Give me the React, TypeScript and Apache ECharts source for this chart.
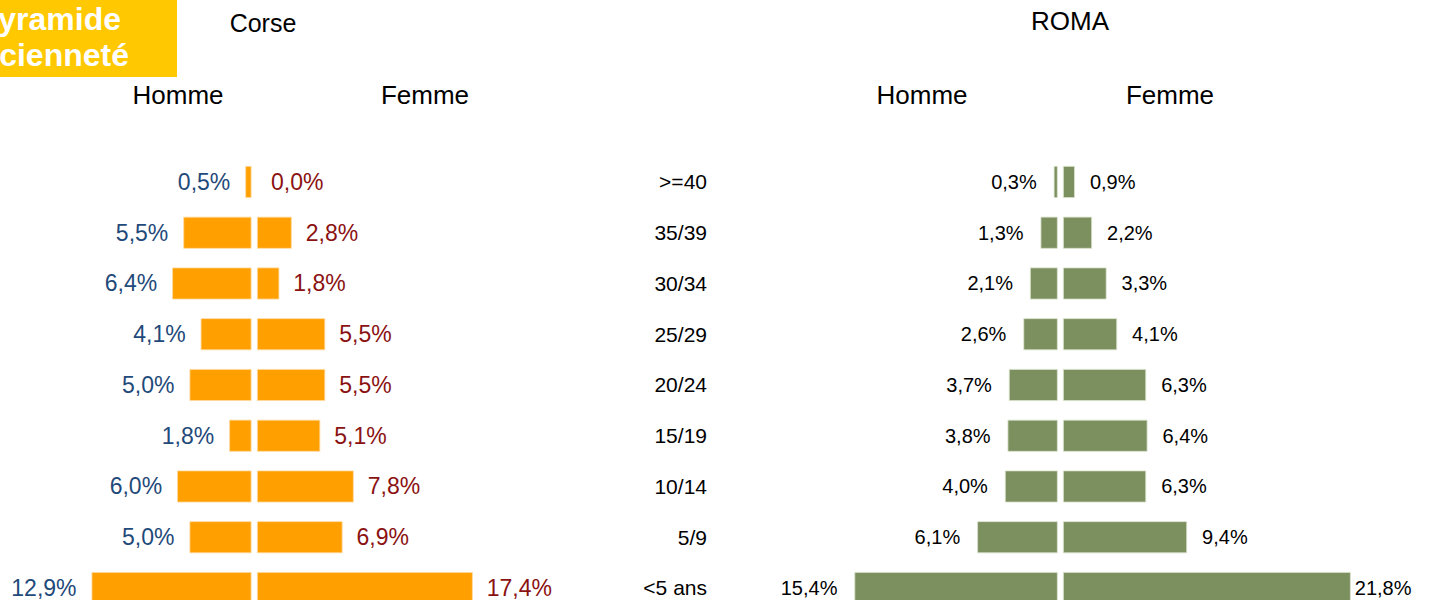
import React, { useEffect, useRef } from "react";
import * as echarts from "echarts";

const categories = [">=40", "35/39", "30/34", "25/29", "20/24", "15/19", "10/14", "5/9", "<5 ans"];
const corseHomme = [0.5, 5.5, 6.4, 4.1, 5.0, 1.8, 6.0, 5.0, 12.9];
const corseFemme = [0.0, 2.8, 1.8, 5.5, 5.5, 5.1, 7.8, 6.9, 17.4];
const romaHomme = [0.3, 1.3, 2.1, 2.6, 3.7, 3.8, 4.0, 6.1, 15.4];
const romaFemme = [0.9, 2.2, 3.3, 4.1, 6.3, 6.4, 6.3, 9.4, 21.8];

const ORANGE = "#FF9F00";
const GREEN = "#7B8F5F";
const BLUE = "#1F4A7A";
const RED = "#8B1212";
const FONT = "Arial, 'Liberation Sans', sans-serif";

const fmt = (v: number) => v.toFixed(1).replace(".", ",") + "%";

export default function App() {
  const ref = useRef<HTMLDivElement>(null);
  useEffect(() => {
    if (!ref.current) return;
    const chart = echarts.init(ref.current, null, { renderer: "svg" });
    const top = 156.6;
    const height = 456.75;
    const grids = [
      { left: 65.5, top, width: 186, height }, // corse homme
      { left: 257, top, width: 248, height }, // corse femme
      { left: 846.5, top, width: 211.2, height }, // roma homme
      { left: 1063, top, width: 290.4, height }, // roma femme
      { left: 715, top, width: 10, height }, // categories
    ];
    const maxes = [15, 20, 16, 22, 1];
    const xAxes = grids.map((_, i) => ({
      type: "value" as const,
      gridIndex: i,
      min: 0,
      max: maxes[i],
      inverse: i === 0 || i === 2,
      show: false,
    }));
    const yAxes = grids.map((_, i) => ({
      type: "category" as const,
      gridIndex: i,
      data: categories,
      inverse: true,
      show: i === 4,
      axisLine: { show: false },
      axisTick: { show: false },
      axisLabel: {
        show: i === 4,
        margin: 8,
        fontSize: 21,
        color: "#000",
        fontFamily: FONT,
      },
    }));
    const mk = (
      idx: number,
      data: number[],
      color: string,
      border: string,
      labelColor: string,
      pos: "left" | "right",
      fontSize: number,
      dist: number,
      special?: { [k: number]: number }
    ) => ({
      type: "bar" as const,
      xAxisIndex: idx,
      yAxisIndex: idx,
      barWidth: 32,
      data: data.map((v, j) => ({
        value: v,
        itemStyle: v === 0 ? { borderWidth: 0 } : undefined,
        label: special && special[j] !== undefined ? { distance: special[j] } : undefined,
      })),
      itemStyle: { color, borderColor: border, borderWidth: 0.8 },
      label: {
        show: true,
        position: pos,
        distance: dist,
        fontSize,
        fontFamily: FONT,
        color: labelColor,
        formatter: (p: any) => fmt(p.value),
      },
    });
    chart.setOption({
      animation: false,
      grid: grids,
      xAxis: xAxes,
      yAxis: yAxes,
      series: [
        mk(0, corseHomme, ORANGE, "#FFD9A0", BLUE, "left", 23, 15),
        mk(1, corseFemme, ORANGE, "#FFD9A0", RED, "right", 23, 14),
        mk(2, romaHomme, GREEN, "#D9E2CB", "#000", "left", 20, 17),
        mk(3, romaFemme, GREEN, "#D9E2CB", "#000", "right", 20, 15, { 8: 4 }),
      ],
      graphic: [
        { type: "rect", shape: { x: 0, y: 0, width: 177, height: 77 }, style: { fill: "#FFC800" } },
        {
          type: "text",
          x: 121,
          y: 19,
          style: { text: "Pyramide", fill: "#fff", font: `bold 32px ${FONT}`, textAlign: "right", textVerticalAlign: "middle" },
        },
        {
          type: "text",
          x: 129,
          y: 55,
          style: { text: "ancienneté", fill: "#fff", font: `bold 32px ${FONT}`, textAlign: "right", textVerticalAlign: "middle" },
        },
        {
          type: "text",
          x: 263,
          y: 23,
          style: { text: "Corse", fill: "#000", font: `25px ${FONT}`, textAlign: "center", textVerticalAlign: "middle" },
        },
        {
          type: "text",
          x: 1070,
          y: 21,
          style: { text: "ROMA", fill: "#000", font: `26px ${FONT}`, textAlign: "center", textVerticalAlign: "middle" },
        },
        ...[
          ["Homme", 178],
          ["Femme", 425],
          ["Homme", 922],
          ["Femme", 1170],
        ].map(([t, x]) => ({
          type: "text",
          x: x as number,
          y: 95,
          style: { text: t as string, fill: "#000", font: `26px ${FONT}`, textAlign: "center", textVerticalAlign: "middle" },
        })),
      ],
    });
    return () => chart.dispose();
  }, []);
  return (
    <div
      ref={ref}
      style={{ position: "fixed", left: 0, top: 0, width: 1431, height: 640, background: "#fff" }}
    />
  );
}
